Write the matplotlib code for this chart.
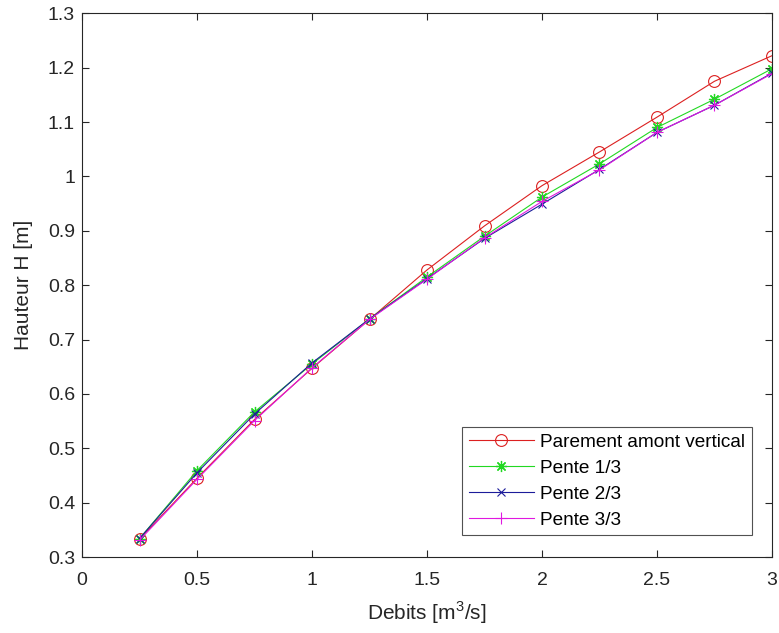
import matplotlib
matplotlib.use("Agg")
import matplotlib.pyplot as plt

plt.rcParams['font.family'] = ['Liberation Sans', 'DejaVu Sans']
plt.rcParams['mathtext.fontset'] = 'custom'
plt.rcParams['mathtext.rm'] = 'Liberation Sans'

debits = [0.25, 0.5, 0.75, 1.0, 1.25, 1.5, 1.75, 2.0, 2.25, 2.5, 2.75, 3.0]
h_vertical = [0.333, 0.445, 0.553, 0.647, 0.737, 0.828, 0.909, 0.983, 1.045, 1.109, 1.175, 1.222]
h_pente13 = [0.334, 0.459, 0.567, 0.655, 0.738, 0.815, 0.890, 0.962, 1.023, 1.090, 1.142, 1.198]
h_pente23 = [0.334, 0.455, 0.563, 0.657, 0.738, 0.812, 0.886, 0.949, 1.013, 1.081, 1.131, 1.190]
h_pente33 = [0.331, 0.443, 0.551, 0.648, 0.737, 0.811, 0.887, 0.954, 1.012, 1.081, 1.131, 1.189]

labels = ['Parement amont vertical', 'Pente 1/3', 'Pente 2/3', 'Pente 3/3']

fig = plt.figure(figsize=(7.79, 6.33), dpi=100)
ax = fig.add_axes([0.1053, 0.120, 0.8857, 0.859])

asterisk = (8, 2, 0)
ax.plot(debits, h_vertical, color='#dc2020', marker='o', ms=8.5, mfc='none', lw=0.8, mew=0.8, label=labels[0])
ax.plot(debits, h_pente13, color='#22d822', marker=asterisk, ms=8, lw=0.8, mew=0.9, label=labels[1])
ax.plot(debits, h_pente23, color='#1c1c9a', marker='x', ms=6, lw=0.8, mew=0.8, label=labels[2])
ax.plot(debits, h_pente33, color='#e018e0', marker='+', ms=9, lw=0.8, mew=0.8, label=labels[3])

ax.set_xlim(0, 3)
ax.set_ylim(0.3, 1.3)
ax.set_xticks([0, 0.5, 1, 1.5, 2, 2.5, 3])
ax.set_xticklabels(['0', '0.5', '1', '1.5', '2', '2.5', '3'])
ax.set_yticks([0.3, 0.4, 0.5, 0.6, 0.7, 0.8, 0.9, 1.0, 1.1, 1.2, 1.3])
ax.set_yticklabels(['0.3', '0.4', '0.5', '0.6', '0.7', '0.8', '0.9', '1', '1.1', '1.2', '1.3'])

for s in ax.spines.values():
    s.set_color('#262626')
    s.set_linewidth(0.8)
ax.tick_params(direction='in', top=True, right=True, length=5, width=0.8,
               colors='#262626', labelsize=14, labelcolor='#262626', pad=5)
ax.tick_params(axis='x', pad=11)

ax.set_xlabel('Debits [m$^3$/s]', fontsize=15, color='#262626', labelpad=7)
ax.set_ylabel('Hauteur H [m]', fontsize=15, color='#262626', labelpad=11)

leg = ax.legend(loc='lower right', bbox_to_anchor=(0.971, 0.040), fontsize=13.7,
                frameon=True, fancybox=False, edgecolor='#262626', handlelength=3.4,
                borderpad=0.35, labelspacing=0.45, handletextpad=0.35, borderaxespad=0)
leg.get_frame().set_linewidth(0.8)

fig.savefig('out.png', dpi=100)
